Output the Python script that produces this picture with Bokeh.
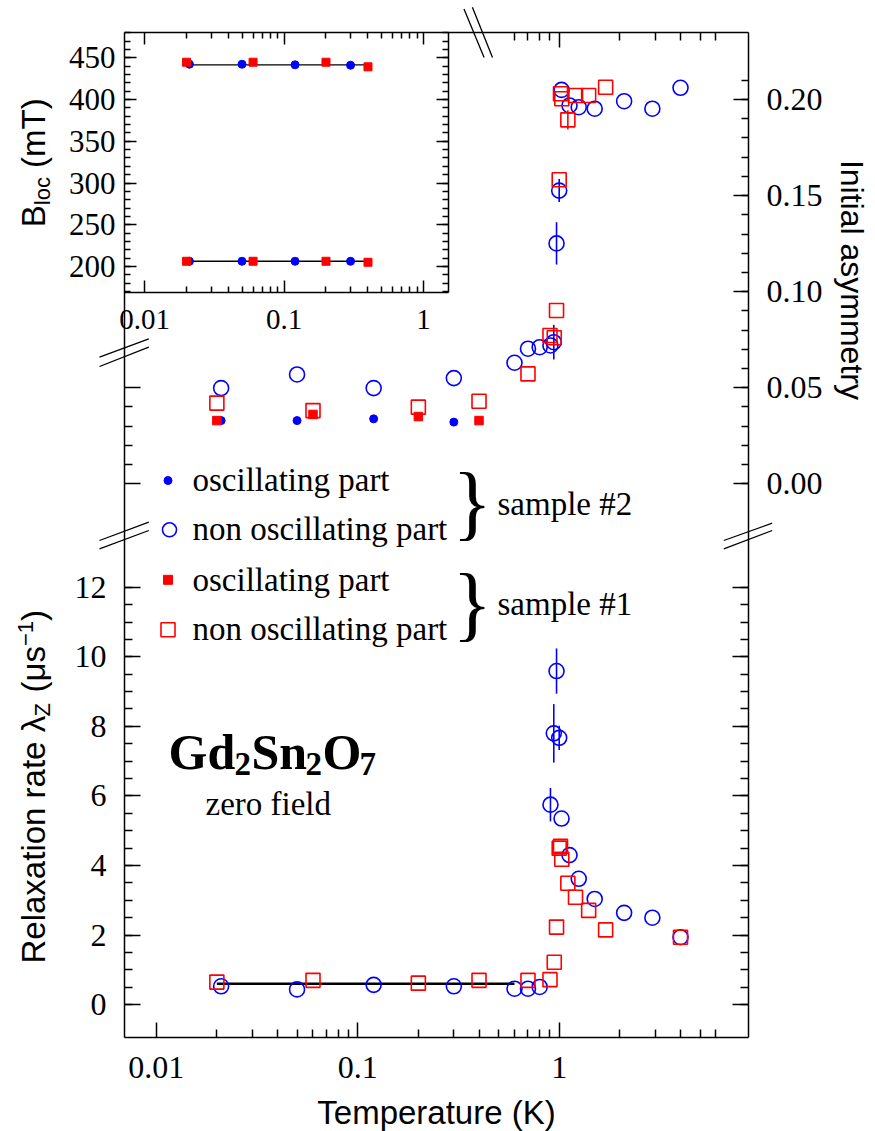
from bokeh.plotting import figure
from bokeh.models import (Range1d, LinearScale, LogScale, LinearAxis, FixedTicker,
                          NumeralTickFormatter, BasicTickFormatter, Label, Arrow,
                          ColumnDataSource)
from bokeh.embed import file_html
from bokeh.resources import INLINE

# ---------------------------------------------------------------- data
x_major_ticks = [0.01, 0.1, 1]
relax_ticks = [0, 2, 4, 6, 8, 10, 12]
asym_ticks = [0.00, 0.05, 0.10, 0.15, 0.20]
bloc_ticks = [200, 250, 300, 350, 400, 450]

# sample #2 (blue), non oscillating part
s2_T = [0.021, 0.05, 0.12, 0.30, 0.60, 0.70, 0.80, 0.905, 0.94, 0.97, 1.00,
        1.027, 1.125, 1.25, 1.50, 2.10, 2.90, 4.00]
s2_asym = [0.0498, 0.0569, 0.0498, 0.0550, 0.0630, 0.0703, 0.0711, 0.0720,
           0.0737, 0.1251, 0.1526, 0.2050, 0.1969, 0.1960, 0.1952, 0.1991,
           0.1952, 0.2061]
s2_asym_err = [0, 0, 0, 0, 0, 0, 0, 0, 0.009, 0.011, 0.006, 0, 0, 0, 0, 0, 0, 0]
s2_lambda = [0.53, 0.44, 0.57, 0.53, 0.46, 0.46, 0.51, 5.75, 7.80, 9.59, 7.67,
             5.35, 4.30, 3.62, 3.04, 2.64, 2.50, 1.94]
s2_lambda_err = [0, 0, 0, 0, 0, 0, 0, 0.48, 0.84, 0.65, 0.35, 0, 0, 0, 0, 0, 0, 0]

# sample #2 (blue), oscillating part
s2o_T = [0.021, 0.05, 0.12, 0.30]
s2o_asym = [0.0329, 0.0329, 0.0338, 0.0321]

# sample #1 (red), oscillating part
s1o_T = [0.02, 0.06, 0.2, 0.4]
s1o_asym = [0.0329, 0.0361, 0.0350, 0.0329]
s1o_asym_err = [0.0016, 0.0016, 0.0018, 0.0016]

# sample #1 (red), non oscillating part
s1a_T = [0.02, 0.06, 0.2, 0.4, 0.7, 0.9, 0.945, 0.97, 1.0, 1.015, 1.03, 1.104,
         1.205, 1.40, 1.70]
s1_asym = [0.0420, 0.0381, 0.0399, 0.0430, 0.0572, 0.0772, 0.0760, 0.0902,
           0.1582, 0.2030, 0.2004, 0.1894, 0.2021, 0.2021, 0.2064]
s1_asym_err = [0, 0, 0, 0, 0, 0, 0, 0, 0, 0, 0, 0.005, 0, 0, 0]
s1l_T = [0.02, 0.06, 0.2, 0.4, 0.7, 0.9, 0.945, 0.97, 1.0, 1.015, 1.03, 1.104,
         1.205, 1.40, 1.70, 4.0]
s1_lambda = [0.65, 0.70, 0.62, 0.70, 0.70, 0.72, 1.22, 2.23, 4.50, 4.55, 4.18,
             3.49, 3.09, 2.71, 2.15, 1.94]

# fitted relaxation line (low T)
fit_lam_T = [0.02, 0.6]
fit_lam = [0.60, 0.60]

# inset: local fields
inset_s2_T = [0.021, 0.05, 0.12, 0.30]
inset_s2_Bhigh = [442.3, 442.3, 441.6, 441.1]
inset_s2_Blow = [206.3, 206.3, 206.3, 206.3]
inset_s1_T = [0.02, 0.06, 0.2, 0.4]
inset_s1_Bhigh = [444.7, 444.7, 444.7, 439.2]
inset_s1_Blow = [206.3, 206.3, 206.3, 205.1]
inset_fit_T = [0.02, 0.40]
inset_fit_Bhigh = [441.6, 441.6]
inset_fit_Blow = [206.3, 206.3]

# ---------------------------------------------------------------- geometry
SERIF = "Liberation Serif"
SANS = "Liberation Sans"
BLUE = "#0000ff"
RED = "#ff0000"

W, H = 875, 1131            # the whole canvas is the bokeh frame
BOX_L, BOX_R, BOX_T, BOX_B = 124.0, 748.0, 32.0, 1037.0    # drawn box, pixels
INSET_R, INSET_B = 448.0, 292.0

# pixel anchors of the scales
MX_PX, MX_PPD = 155.7, 201.5        # x = 0.01 at 155.7 px, 201.5 px per decade
RL_PX, RL_PPU = 1004.2, 34.79       # relaxation 0 at 1004.2 px
AS_PX, AS_PPU = 483.3, 1921.5       # asymmetry 0 at 483.3 px
IX_PX, IX_PPD = 144.0, 139.5        # inset x = 0.01 at 144 px
IY_PX, IY_PPU = 57.3, 1 / 1.1978    # inset 450 mT at 57.3 px


def mx(px):
    return 10 ** (-2 + (px - MX_PX) / MX_PPD)


def ix(px):
    return 10 ** (-2 + (px - IX_PX) / IX_PPD)


def rl(py):
    return (RL_PX - py) / RL_PPU


def asy(py):
    return (AS_PX - py) / AS_PPU


def iy(py):
    return 450 + (IY_PX - py) / IY_PPU


p = figure(width=W, height=H, x_axis_type="log", x_axis_location=None,
           y_axis_location=None, x_range=Range1d(mx(0), mx(W)),
           y_range=Range1d(rl(H), rl(0)), output_backend="svg",
           toolbar_location=None, title=None, min_border=0)
p.grid.grid_line_color = None
p.outline_line_color = None
p.background_fill_color = "white"
p.border_fill_color = "white"

p.extra_x_ranges = {"inset_x": Range1d(ix(0), ix(W)), "px": Range1d(0, W)}
p.extra_x_scales = {"inset_x": LogScale(), "px": LinearScale()}
p.extra_y_ranges = {"asym": Range1d(asy(H), asy(0)),
                    "inset_y": Range1d(iy(H), iy(0)), "py": Range1d(H, 0)}
p.extra_y_scales = {"asym": LinearScale(), "inset_y": LinearScale(),
                    "py": LinearScale()}

log_minor = [k * 10.0 ** e for e in (-2, -1) for k in range(2, 10)]
main_minor = log_minor + [2, 3, 4, 5, 6]
half_minor = [i * 0.5 for i in range(0, 25)]


def add_axis(side, ticks, minor, major_len, minor_len, fmt=None,
             font_size="32px", standoff=12, line=True, **kw):
    ax = LinearAxis(ticker=FixedTicker(ticks=ticks, minor_ticks=minor), **kw)
    ax.major_tick_in = major_len
    ax.major_tick_out = 0
    ax.minor_tick_in = minor_len
    ax.minor_tick_out = 0
    for a in ("axis_line", "major_tick_line", "minor_tick_line"):
        setattr(ax, a + "_color", "black")
        setattr(ax, a + "_width", 1.5)
    if not line:
        ax.axis_line_color = None
    if fmt is None:
        ax.major_label_text_color = None
    else:
        ax.formatter = fmt
        ax.major_label_text_font = SERIF
        ax.major_label_text_font_size = font_size
        ax.major_label_text_color = "black"
        ax.major_label_standoff = standoff
    p.add_layout(ax, side)
    return ax


# box: bottom temperature axis
add_axis("below", x_major_ticks, main_minor, 15, 8,
         fmt=NumeralTickFormatter(format="0.[00]"), standoff=19,
         bounds=(mx(BOX_L), mx(BOX_R)), fixed_location=rl(BOX_B))
# box: top (main ticks right of the break)
add_axis("above", [1], [0.6, 0.7, 0.8, 0.9, 2, 3, 4, 5, 6], 15, 8,
         bounds=(mx(BOX_L), mx(BOX_R)), fixed_location=rl(BOX_T))
# box: left, relaxation rate
add_axis("left", relax_ticks, half_minor, 16, 8,
         fmt=BasicTickFormatter(), standoff=18,
         bounds=(rl(BOX_B), rl(BOX_T)), fixed_location=mx(BOX_L))
# right relaxation ticks
add_axis("right", relax_ticks, half_minor, 16, 8, line=False,
         fixed_location=mx(BOX_R))
# box: right, asymmetry
add_axis("right", asym_ticks, [i * 0.01 for i in range(0, 22)], 15, 7,
         fmt=NumeralTickFormatter(format="0.00"), standoff=18,
         bounds=(asy(BOX_B), asy(BOX_T)), y_range_name="asym",
         fixed_location=mx(BOX_R))
# left asymmetry ticks
add_axis("left", [0.0, 0.05], [0.01, 0.02, 0.03, 0.04], 16, 8, line=False,
         y_range_name="asym", fixed_location=mx(BOX_L))
# inset axes
add_axis("left", bloc_ticks, list(range(170, 481, 10)), 12, 6,
         fmt=BasicTickFormatter(), font_size="31px", standoff=9, line=False,
         y_range_name="inset_y", fixed_location=mx(BOX_L))
add_axis("right", bloc_ticks, list(range(170, 481, 10)), 12, 6,
         bounds=(iy(INSET_B), iy(BOX_T)), y_range_name="inset_y",
         x_range_name="inset_x", fixed_location=ix(INSET_R))
add_axis("below", x_major_ticks, log_minor, 12, 6,
         fmt=NumeralTickFormatter(format="0.[00]"), font_size="29px", standoff=17,
         bounds=(ix(BOX_L), ix(INSET_R)), x_range_name="inset_x",
         y_range_name="inset_y", fixed_location=iy(INSET_B))
add_axis("above", x_major_ticks, log_minor, 12, 6, line=False,
         x_range_name="inset_x", fixed_location=rl(BOX_T))


def brk(x0, y0, x1, y1):
    p.add_layout(Arrow(end=None, x_start=x0, y_start=y0, x_end=x1, y_end=y1,
                       x_range_name="px", y_range_name="py",
                       line_color="black", line_width=1.3))


# axis break marks
brk(99, 356.7, 148.3, 338.3)
brk(99, 366.0, 148.3, 346.7)
brk(99, 540.0, 148.3, 521.7)
brk(99, 548.3, 148.3, 530.0)
brk(723.3, 540.0, 771.7, 522.7)
brk(723.3, 548.3, 771.7, 530.0)
brk(463.5, 8.4, 483.6, 57.0)
brk(471.9, 6.7, 492.0, 57.0)

BASE_SHIFT = 0.28    # text is drawn this fraction of an em below the anchor


def lab(x, y, text, font=SERIF, size=33, style="normal", align="left",
        angle=0.0):
    off = BASE_SHIFT * size
    if angle == 0:
        y -= off
    elif angle > 0:
        x -= off
    else:
        x += off
    p.add_layout(Label(x=x, y=y, x_range_name="px", y_range_name="py",
                       text=text, text_font=font, text_font_size=f"{size}px",
                       text_font_style=style, text_align=align,
                       text_baseline="alphabetic", angle=angle,
                       text_color="black"))


# ---------------------------------------------------------------- data marks
p.line(fit_lam_T, fit_lam, line_color="black", line_width=2.5)
p.line(inset_fit_T, inset_fit_Bhigh, x_range_name="inset_x",
       y_range_name="inset_y", line_color="black", line_width=1.3)
p.line(inset_fit_T, inset_fit_Blow, x_range_name="inset_x",
       y_range_name="inset_y", line_color="black", line_width=1.3)


def errbars(T, y, e, color, **kw):
    sel = [(t, v, d) for t, v, d in zip(T, y, e) if d > 0]
    src = ColumnDataSource(dict(x=[s[0] for s in sel],
                                lo=[s[1] - s[2] for s in sel],
                                hi=[s[1] + s[2] for s in sel]))
    p.segment(x0="x", y0="lo", x1="x", y1="hi", source=src, line_color=color,
              line_width=1.6, **kw)


errbars(s2_T, s2_asym, s2_asym_err, BLUE, y_range_name="asym")
errbars(s2_T, s2_lambda, s2_lambda_err, BLUE)
errbars(s1a_T, s1_asym, s1_asym_err, RED, y_range_name="asym")
errbars(s1o_T, s1o_asym, s1o_asym_err, RED, y_range_name="asym")

# asymmetry panel
p.scatter(s2_T, s2_asym, marker="circle", size=15, line_color=BLUE,
          fill_color=None, line_width=1.6, y_range_name="asym")
p.scatter(s2o_T, s2o_asym, marker="circle", size=8, line_color=BLUE,
          fill_color=BLUE, y_range_name="asym")
p.scatter(s1a_T, s1_asym, marker="square", size=14, line_color=RED,
          fill_color=None, line_width=1.6, y_range_name="asym")
p.scatter(s1o_T, s1o_asym, marker="square", size=8.5, line_color=RED,
          fill_color=RED, y_range_name="asym")
# relaxation panel
p.scatter(s2_T, s2_lambda, marker="circle", size=15, line_color=BLUE,
          fill_color=None, line_width=1.6)
p.scatter(s1l_T, s1_lambda, marker="square", size=14, line_color=RED,
          fill_color=None, line_width=1.6)
# inset
for ys in (inset_s2_Bhigh, inset_s2_Blow):
    p.scatter(inset_s2_T, ys, marker="circle", size=8, line_color=BLUE,
              fill_color=BLUE, x_range_name="inset_x", y_range_name="inset_y")
for ys in (inset_s1_Bhigh, inset_s1_Blow):
    p.scatter(inset_s1_T, ys, marker="square", size=8, line_color=RED,
              fill_color=RED, x_range_name="inset_x", y_range_name="inset_y")

# ---------------------------------------------------------------- legend
p.scatter([167.5], [480.0], marker="circle", size=8, line_color=BLUE,
          fill_color=BLUE, x_range_name="px", y_range_name="py")
p.scatter([169.0], [529.3], marker="circle", size=14, line_color=BLUE,
          fill_color=None, line_width=1.6, x_range_name="px", y_range_name="py")
p.scatter([167.5], [579.3], marker="square", size=9, line_color=RED,
          fill_color=RED, x_range_name="px", y_range_name="py")
p.scatter([167.5], [629.3], marker="square", size=14, line_color=RED,
          fill_color=None, line_width=1.6, x_range_name="px", y_range_name="py")
lab(192, 489, "oscillating part")
lab(192, 538, "non oscillating part")
lab(192, 589, "oscillating part")
lab(192, 638, "non oscillating part")
lab(452, 524.5, "}", size=82)
lab(452, 625.5, "}", size=82)
lab(497, 513, "sample #2")
lab(497, 613, "sample #1")

# compound name
lab(168, 765, "Gd", size=50, style="bold")
lab(234, 773, "2", size=33, style="bold")
lab(251, 765, "Sn", size=50, style="bold")
lab(305, 773, "2", size=33, style="bold")
lab(322, 765, "O", size=50, style="bold")
lab(359, 773, "7", size=33, style="bold")
lab(205, 813, "zero field")

# axis titles
HALF_PI = 1.5707963
lab(42, 963, "Relaxation rate \u03bb", font=SANS, angle=HALF_PI)
lab(48, 716, "Z", font=SANS, size=22, angle=HALF_PI)
lab(42, 692, "(\u03bcs", font=SANS, angle=HALF_PI)
lab(31, 645.5, "\u22121", font=SANS, size=22, angle=HALF_PI)
lab(42, 620.4, ")", font=SANS, angle=HALF_PI)

lab(42.7, 226.7, "B", font=SANS, angle=HALF_PI)
lab(47.7, 204.7, "loc", font=SANS, size=22, angle=HALF_PI)
lab(42.7, 167.4, "(mT)", font=SANS, angle=HALF_PI)

lab(843, 159.4, "Initial asymmetry", font=SANS, size=32, angle=-HALF_PI)
lab(436, 1121, "Temperature (K)", font=SANS, align="center")

open("out.html", "w").write(file_html(p, INLINE))
